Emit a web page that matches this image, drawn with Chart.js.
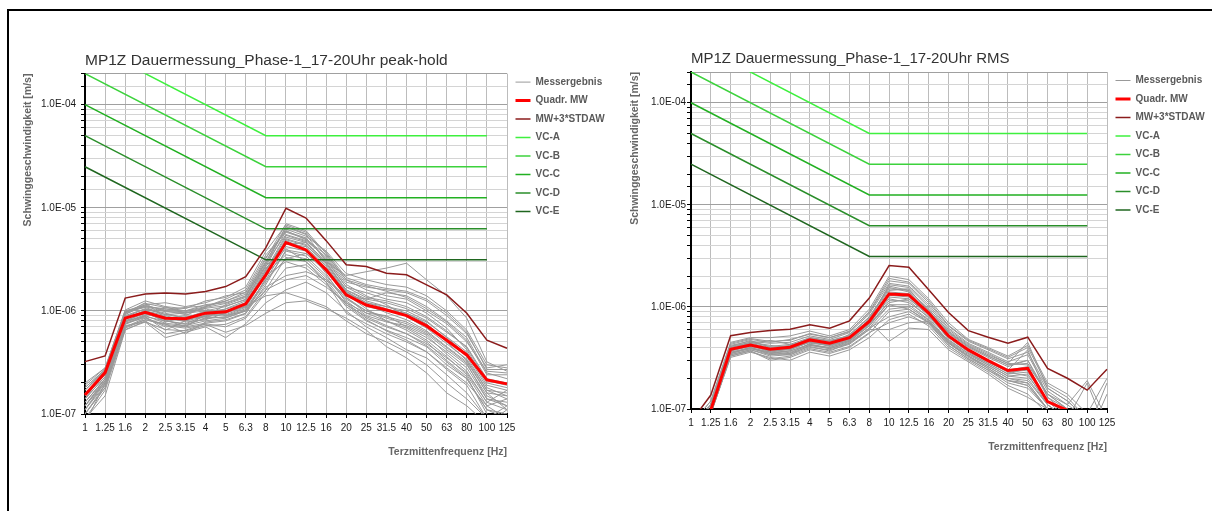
<!DOCTYPE html>
<html>
<head>
<meta charset="utf-8">
<script src="https://cdn.jsdelivr.net/npm/chart.js@4.4.0/dist/chart.umd.min.js"></script>
<style>
  body { margin:0; background:#fff; width:1212px; height:511px; overflow:hidden; position:relative; }
  #rahmen { position:absolute; left:7px; top:9px; right:0; bottom:0; border-top:2px solid #000; border-left:2px solid #000; }
  .box { position:absolute; top:12px; }
</style>
</head>
<body>
<div id="rahmen"></div>
<div class="box" style="left:10px"><canvas id="peak" width="600" height="470"></canvas></div>
<div class="box" style="left:612px"><canvas id="rms" width="598" height="470"></canvas></div>
<script>
const frequenzen = ['1','1.25','1.6','2','2.5','3.15','4','5','6.3','8','10','12.5','16','20','25','31.5','40','50','63','80','100','125'];

// alle Werte in µm/s
const peakMW  = [0.153,0.252,0.85,0.97,0.85,0.84,0.95,0.98,1.17,2.24,4.6,3.9,2.5,1.43,1.14,1.02,0.90,0.715,0.52,0.374,0.214,0.196];
const peakMW3 = [0.322,0.366,1.33,1.46,1.49,1.46,1.54,1.72,2.15,4.1,9.9,7.94,4.8,2.8,2.69,2.32,2.24,1.79,1.43,0.95,0.52,0.434];
const peakMess = [
  [0.12,0.20,0.80,0.95,0.80,0.75,0.90,0.95,1.10,2.4,5.2,4.6,2.8,1.5,1.2,1.1,1.0,0.80,0.55,0.38,0.18,0.15],
  [0.15,0.24,0.90,1.05,0.95,0.85,1.00,1.10,1.30,2.8,6.5,5.5,3.0,1.6,1.3,1.2,1.05,0.85,0.62,0.45,0.22,0.20],
  [0.10,0.18,0.70,0.85,0.70,0.72,0.80,0.85,1.00,1.9,3.8,3.4,2.2,1.3,1.0,0.85,0.75,0.60,0.42,0.30,0.15,0.12],
  [0.20,0.28,1.00,1.10,1.05,1.00,1.15,1.20,1.40,3.2,7.0,6.0,3.6,2.0,1.6,1.4,1.3,1.0,0.75,0.50,0.26,0.25],
  [0.09,0.15,0.65,0.80,0.60,0.65,0.75,0.70,0.85,1.5,2.6,2.8,1.9,1.1,0.80,0.65,0.55,0.45,0.30,0.22,0.11,0.09],
  [0.13,0.22,0.85,1.00,0.90,0.80,0.95,1.00,1.20,2.2,4.5,4.2,2.6,1.35,0.95,0.90,0.70,0.55,0.40,0.28,0.14,0.13],
  [0.11,0.21,0.75,0.90,1.10,0.95,1.05,0.90,1.05,2.0,3.2,3.6,2.4,1.5,1.1,1.0,0.95,0.75,0.50,0.33,0.16,0.11],
  [0.17,0.26,0.95,1.20,0.85,0.90,1.10,1.30,1.60,3.5,5.8,5.0,3.2,1.7,1.5,1.3,1.2,0.95,0.68,0.42,0.20,0.18],
  [0.10,0.19,0.72,0.78,0.55,0.62,0.70,0.55,0.75,1.2,1.6,1.9,1.5,1.0,0.70,0.55,0.42,0.35,0.24,0.16,0.09,0.10],
  [0.14,0.23,0.88,0.98,0.78,0.88,0.85,1.05,1.25,2.6,4.0,3.0,1.9,0.95,0.75,0.60,0.50,0.40,0.28,0.20,0.12,0.14],
  [0.16,0.25,0.92,1.15,1.20,1.10,1.20,1.40,1.50,3.0,6.2,5.3,3.8,2.3,2.0,1.8,1.7,1.4,1.0,0.65,0.30,0.28],
  [0.12,0.21,0.78,0.92,0.88,0.78,0.82,0.95,1.15,2.5,4.8,4.0,2.3,1.2,0.85,0.70,0.60,0.48,0.35,0.25,0.13,0.11],
  [0.18,0.27,0.98,1.08,0.92,0.95,1.00,0.90,1.00,1.7,2.2,2.4,2.0,1.4,1.3,1.5,1.4,1.1,0.80,0.55,0.25,0.22],
  [0.11,0.19,0.68,0.82,0.75,0.60,0.78,0.82,0.95,2.1,5.0,4.4,2.7,1.45,1.05,0.80,0.65,0.50,0.33,0.23,0.10,0.08],
  [0.13,0.22,0.82,1.02,1.00,0.92,0.88,1.15,1.35,2.9,5.5,4.8,3.3,1.8,1.4,1.15,0.88,0.68,0.48,0.34,0.17,0.16],
  [0.15,0.24,0.86,0.94,0.82,0.70,0.92,1.00,1.10,1.4,1.5,1.3,1.1,0.80,0.60,0.50,0.40,0.30,0.20,0.14,0.09,0.12],
  [0.08,0.20,0.80,0.88,0.65,0.80,1.00,0.95,1.20,2.3,3.5,3.2,2.1,1.25,0.90,0.78,0.72,0.58,0.38,0.26,0.13,0.17],
  [0.19,0.28,1.02,1.25,1.10,1.05,1.25,1.35,1.70,3.8,6.8,5.8,3.4,1.9,1.7,1.6,1.5,1.25,0.90,0.60,0.28,0.30],
  [0.14,0.26,0.96,1.12,1.02,1.08,1.12,1.25,1.45,2.7,4.4,4.6,3.0,2.2,2.4,2.6,2.9,2.0,1.4,0.85,0.32,0.26],
  [0.12,0.22,0.76,0.86,0.72,0.68,0.74,0.62,0.72,0.95,1.2,1.25,1.05,0.85,0.65,0.45,0.35,0.25,0.16,0.12,0.08,0.11],
  [0.14,0.23,0.84,1.00,0.86,0.82,0.90,0.96,1.12,2.3,4.9,4.3,2.9,1.6,1.25,1.1,0.95,0.78,0.56,0.40,0.19,0.17],
  [0.11,0.20,0.74,0.88,0.80,0.74,0.84,0.88,1.02,2.0,4.2,3.8,2.5,1.35,1.0,0.88,0.78,0.62,0.44,0.31,0.14,0.12],
  [0.16,0.25,0.94,1.10,0.98,0.96,1.06,1.12,1.28,2.7,5.9,5.1,3.1,1.7,1.35,1.25,1.1,0.88,0.64,0.44,0.21,0.19],
  [0.13,0.22,0.80,0.96,0.84,0.80,0.88,0.92,1.08,2.2,3.0,2.6,1.8,1.15,0.88,0.72,0.60,0.46,0.32,0.22,0.11,0.10],
  [0.10,0.18,0.70,0.82,0.74,0.70,0.76,0.80,0.94,1.8,3.9,3.6,2.6,1.55,1.2,1.05,0.92,0.74,0.52,0.36,0.17,0.14],
  [0.17,0.27,0.96,1.18,1.08,1.00,1.10,1.24,1.52,3.3,6.0,4.9,3.5,2.0,1.75,1.55,1.35,1.05,0.78,0.52,0.24,0.24],
  [0.12,0.21,0.78,0.90,0.76,0.72,0.86,0.86,1.00,1.6,2.0,2.2,1.7,1.2,0.95,0.80,0.68,0.52,0.36,0.24,0.12,0.09],
  [0.15,0.24,0.88,1.04,0.92,0.86,0.98,1.04,1.20,2.5,5.4,4.7,2.9,1.55,1.15,0.96,0.82,0.64,0.45,0.32,0.16,0.15],
  [0.09,0.17,0.66,0.78,0.66,0.64,0.72,0.74,0.88,1.6,3.3,3.0,2.0,1.15,0.82,0.64,0.52,0.40,0.27,0.19,0.09,0.09],
  [0.18,0.27,1.00,1.14,1.00,0.98,1.08,1.18,1.38,3.0,6.6,5.6,3.7,2.1,1.8,1.65,1.55,1.3,0.95,0.62,0.27,0.27]
];

const rmsMW  = [0.04,0.098,0.385,0.424,0.385,0.403,0.475,0.44,0.50,0.72,1.34,1.31,0.87,0.52,0.379,0.298,0.238,0.25,0.118,0.097,0.06,0.05];
const rmsMW3 = [0.075,0.137,0.523,0.56,0.586,0.604,0.67,0.618,0.73,1.22,2.54,2.45,1.47,0.88,0.586,0.505,0.44,0.505,0.25,0.20,0.153,0.245];
const rmsMess = [
  [0.06,0.10,0.38,0.42,0.38,0.40,0.47,0.44,0.50,0.72,1.35,1.30,0.86,0.52,0.38,0.30,0.24,0.26,0.12,0.09,0.06,0.05],
  [0.05,0.09,0.35,0.40,0.34,0.36,0.42,0.40,0.46,0.65,1.15,1.15,0.78,0.46,0.34,0.27,0.21,0.20,0.11,0.08,0.06,0.06],
  [0.07,0.11,0.42,0.46,0.44,0.45,0.52,0.48,0.56,0.85,1.70,1.60,1.05,0.62,0.44,0.36,0.29,0.34,0.15,0.11,0.08,0.07],
  [0.05,0.09,0.33,0.37,0.30,0.32,0.38,0.35,0.40,0.55,0.90,0.95,0.70,0.42,0.31,0.24,0.18,0.16,0.10,0.07,0.05,0.05],
  [0.06,0.11,0.40,0.45,0.42,0.40,0.50,0.47,0.52,0.80,1.55,1.40,0.92,0.55,0.40,0.32,0.26,0.30,0.13,0.10,0.07,0.06],
  [0.05,0.10,0.36,0.39,0.36,0.35,0.44,0.42,0.48,0.68,1.25,1.20,0.82,0.50,0.36,0.28,0.22,0.23,0.12,0.08,0.06,0.05],
  [0.06,0.10,0.39,0.44,0.47,0.43,0.45,0.43,0.54,0.78,1.45,1.50,0.90,0.56,0.41,0.33,0.27,0.28,0.14,0.11,0.19,0.08],
  [0.05,0.09,0.32,0.36,0.32,0.30,0.36,0.33,0.38,0.50,0.75,0.85,0.65,0.40,0.30,0.23,0.17,0.14,0.09,0.06,0.05,0.05],
  [0.07,0.12,0.45,0.50,0.50,0.52,0.58,0.52,0.60,0.95,2.00,1.85,1.20,0.70,0.48,0.40,0.33,0.42,0.18,0.14,0.09,0.20],
  [0.06,0.10,0.37,0.41,0.37,0.38,0.46,0.41,0.47,0.70,1.30,1.25,0.84,0.48,0.35,0.28,0.22,0.25,0.12,0.09,0.06,0.07],
  [0.05,0.09,0.34,0.38,0.33,0.34,0.40,0.38,0.43,0.60,0.60,0.70,0.72,0.44,0.33,0.26,0.20,0.18,0.10,0.07,0.05,0.05],
  [0.06,0.11,0.41,0.47,0.40,0.42,0.49,0.46,0.51,0.76,1.60,1.45,0.95,0.58,0.42,0.34,0.28,0.45,0.16,0.12,0.08,0.06],
  [0.06,0.10,0.38,0.43,0.36,0.39,0.45,0.42,0.49,0.74,1.40,1.35,0.88,0.53,0.37,0.29,0.23,0.21,0.12,0.09,0.06,0.18],
  [0.07,0.11,0.43,0.48,0.45,0.48,0.54,0.50,0.58,0.88,1.80,1.70,1.10,0.65,0.46,0.38,0.31,0.36,0.16,0.12,0.08,0.07],
  [0.05,0.09,0.35,0.40,0.35,0.37,0.43,0.39,0.45,0.62,1.05,1.05,0.75,0.45,0.33,0.25,0.19,0.17,0.10,0.08,0.05,0.05],
  [0.06,0.10,0.39,0.43,0.39,0.41,0.47,0.45,0.50,0.72,0.46,0.62,0.60,0.38,0.29,0.22,0.16,0.13,0.10,0.07,0.05,0.06],
  [0.06,0.10,0.38,0.42,0.37,0.39,0.46,0.43,0.49,0.70,1.20,1.10,0.80,0.50,0.37,0.29,0.23,0.24,0.12,0.09,0.06,0.05],
  [0.07,0.11,0.41,0.45,0.41,0.43,0.50,0.46,0.53,0.80,1.50,1.45,0.95,0.57,0.41,0.33,0.27,0.30,0.14,0.10,0.07,0.06],
  [0.05,0.09,0.34,0.38,0.34,0.35,0.41,0.37,0.44,0.60,0.95,1.00,0.74,0.45,0.33,0.26,0.20,0.19,0.11,0.08,0.05,0.05],
  [0.06,0.10,0.37,0.42,0.39,0.38,0.45,0.42,0.47,0.68,1.10,1.20,0.85,0.51,0.37,0.29,0.24,0.38,0.13,0.09,0.06,0.06],
  [0.06,0.11,0.40,0.44,0.40,0.41,0.48,0.44,0.51,0.75,1.65,1.55,1.00,0.60,0.43,0.35,0.28,0.27,0.14,0.10,0.07,0.06],
  [0.05,0.09,0.33,0.37,0.31,0.33,0.39,0.36,0.41,0.56,0.70,0.80,0.68,0.42,0.31,0.24,0.19,0.17,0.10,0.07,0.05,0.05],
  [0.07,0.12,0.44,0.49,0.46,0.47,0.55,0.50,0.57,0.90,1.90,1.75,1.15,0.66,0.47,0.39,0.32,0.40,0.17,0.13,0.08,0.07],
  [0.06,0.10,0.36,0.40,0.36,0.37,0.43,0.40,0.46,0.66,1.05,0.95,0.72,0.47,0.35,0.27,0.21,0.22,0.11,0.08,0.18,0.06],
  [0.05,0.09,0.35,0.39,0.35,0.34,0.42,0.39,0.44,0.62,0.80,0.90,0.70,0.44,0.32,0.25,0.19,0.18,0.10,0.07,0.05,0.14]
];

// VC-Kurven, Stützpunkte bei 1 Hz, 8 Hz und 100 Hz (µm/s)
const vcA = [400,null,null,null,null,null,null,null,null,50,null,null,null,null,null,null,null,null,null,null,50,null];
const vcB = [200,null,null,null,null,null,null,null,null,25,null,null,null,null,null,null,null,null,null,null,25,null];
const vcC = [100,null,null,null,null,null,null,null,null,12.5,null,null,null,null,null,null,null,null,null,null,12.5,null];
const vcD = [50,null,null,null,null,null,null,null,null,6.25,null,null,null,null,null,null,null,null,null,null,6.25,null];
const vcE = [25,null,null,null,null,null,null,null,null,3.125,null,null,null,null,null,null,null,null,null,null,3.125,null];

const inMS = v => v == null ? null : v * 1e-6;
const istDekade = v => Math.abs(Math.log10(v) - Math.round(Math.log10(v))) < 1e-6;

Chart.defaults.font.family = '"Liberation Sans", Arial, sans-serif';

const legendeVerschieben = {
  id: 'legendeVerschieben',
  afterLayout(chart) { chart.legend.top -= 5; chart.legend.bottom -= 5; }
};

function erzeugeDiagramm(id, titel, mw, mw3, mess, lay) {
  const datasets = mess.map((reihe, i) => ({
    label: 'Messergebnis', data: reihe.map(inMS), borderColor: '#999999', borderWidth: 1,
    order: 10, rang: 0, imLegend: i === 0
  }));
  datasets.push({ label: 'Quadr. MW', data: mw.map(inMS), borderColor: '#ff0000', borderWidth: 3, order: 1, rang: 1 });
  datasets.push({ label: 'MW+3*STDAW', data: mw3.map(inMS), borderColor: '#8b1c1c', borderWidth: 1.5, order: 2, rang: 2 });
  const vc = [['VC-A', vcA, '#3ef03e'], ['VC-B', vcB, '#3cd23c'], ['VC-C', vcC, '#22b022'], ['VC-D', vcD, '#2a8e2a'], ['VC-E', vcE, '#1f661f']];
  vc.forEach(([name, werte, farbe], i) => datasets.push({
    label: name, data: werte.map(inMS), borderColor: farbe, borderWidth: 1.5, spanGaps: true, order: 3, rang: 3 + i
  }));

  new Chart(document.getElementById(id), {
    type: 'line',
    data: { labels: frequenzen, datasets },
    options: {
      responsive: false, animation: false, devicePixelRatio: 1,
      elements: { point: { radius: 0 }, line: { tension: 0 } },
      layout: { padding: { left: 0, top: 0, right: lay.rechts, bottom: lay.unten } },
      plugins: {
        tooltip: { enabled: false },
        title: {
          display: true, text: titel, align: 'start', fullSize: false, color: '#333',
          font: { size: lay.titelGroesse, weight: 'normal' }, padding: { top: lay.titelOben, bottom: 4 }
        },
        legend: {
          position: 'right', align: 'start', fullSize: false, maxWidth: 100,
          labels: {
            usePointStyle: true, pointStyle: 'line', pointStyleWidth: 15, padding: 8.5,
            color: '#5a5a5a', font: { size: 10, weight: 'bold' },
            filter: (item, data) => data.datasets[item.datasetIndex].imLegend !== false,
            sort: (a, b, data) => data.datasets[a.datasetIndex].rang - data.datasets[b.datasetIndex].rang
          }
        }
      },
      scales: {
        x: {
          type: 'category', offset: false,
          grid: { color: '#bcbcbc', tickColor: '#000', tickLength: 4, offset: false },
          border: { color: '#000', width: 2 },
          ticks: { autoSkip: false, maxRotation: 0, color: '#1a1a1a', font: { size: 10 }, padding: 4 },
          title: {
            display: true, text: 'Terzmittenfrequenz [Hz]', align: 'end', color: '#666',
            font: { size: 10.5, weight: 'bold' }, padding: { top: 0, bottom: 1 }
          },
          afterFit: s => { s.height = 45; }
        },
        y: {
          type: 'logarithmic', min: 1e-7, max: 2e-4,
          grid: { color: c => (istDekade(c.tick.value) || c.index === c.scale.ticks.length - 1) ? '#a0a0a0' : '#d4d4d4', tickColor: '#000', tickLength: 4 },
          border: { color: '#000', width: 2 },
          ticks: {
            autoSkip: false, color: '#1a1a1a', font: { size: 10 }, padding: lay.tickAbstand,
            callback: v => istDekade(v) ? '1.0E-' + String(-Math.round(Math.log10(v))).padStart(2, '0') : ''
          },
          title: {
            display: true, text: 'Schwinggeschwindigkeit [m/s]', align: 'end', color: '#666',
            font: { size: 10.5, weight: 'bold' }, padding: { top: lay.yTitel, bottom: 0 }
          },
          afterFit: s => { s.width = lay.yBreite; }
        }
      }
    },
    plugins: [legendeVerschieben]
  });
}

erzeugeDiagramm('peak', 'MP1Z Dauermessung_Phase-1_17-20Uhr peak-hold', peakMW, peakMW3, peakMess,
  { yBreite: 75, rechts: 3, unten: 23, titelOben: 39, titelGroesse: 15.5, tickAbstand: 5, yTitel: 12 });
erzeugeDiagramm('rms', 'MP1Z Dauermessung_Phase-1_17-20Uhr RMS', rmsMW, rmsMW3, rmsMess,
  { yBreite: 79, rechts: 3, unten: 28, titelOben: 38, titelGroesse: 15, tickAbstand: 1, yTitel: 17 });
</script>
</body>
</html>
